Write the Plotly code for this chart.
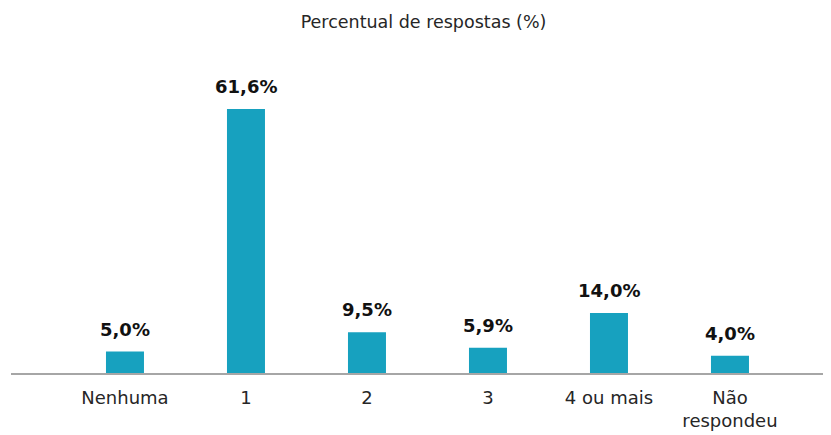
import plotly.graph_objects as go

categories = ["Nenhuma", "1", "2", "3", "4 ou mais", "Não<br>respondeu"]
values = [5.0, 61.6, 9.5, 5.9, 14.0, 4.0]
value_labels = ["5,0%", "61,6%", "9,5%", "5,9%", "14,0%", "4,0%"]
title_text = "Percentual de respostas (%)"

bar_color = "#17a1bf"

fig = go.Figure()
fig.add_trace(go.Bar(
    x=list(range(len(categories))),
    y=values,
    marker=dict(color=bar_color, line=dict(width=0)),
    hoverinfo="skip",
))

for i, (v, lab) in enumerate(zip(values, value_labels)):
    fig.add_annotation(
        x=i, y=v, text="<b>%s</b>" % lab, showarrow=False,
        xref="x", yref="y", yanchor="bottom", yshift=10,
        font=dict(family="DejaVu Sans", size=18, color="#111111"),
    )

H = 435
fig.update_layout(
    width=831, height=H,
    margin=dict(l=3, r=0, t=65, b=69.5),
    paper_bgcolor="white", plot_bgcolor="white",
    bargap=0.686,
    showlegend=False,
    title=dict(text=title_text, x=0.5, xanchor="center", y=1 - 14 / H,
               yanchor="middle", yref="container",
               font=dict(family="DejaVu Sans", size=17.5, color="#262626")),
    xaxis=dict(
        range=[-0.942, 5.901],
        tickmode="array",
        tickvals=list(range(len(categories))),
        ticktext=categories,
        showline=True, linecolor="#a6a6a6", linewidth=2,
        showgrid=False, zeroline=False, ticks="",
        ticklabelstandoff=7,
        tickfont=dict(family="DejaVu Sans", size=18, color="#262626"),
    ),
    yaxis=dict(range=[0, 70], visible=False, showgrid=False, zeroline=False),
)

fig.write_html("out.html")
